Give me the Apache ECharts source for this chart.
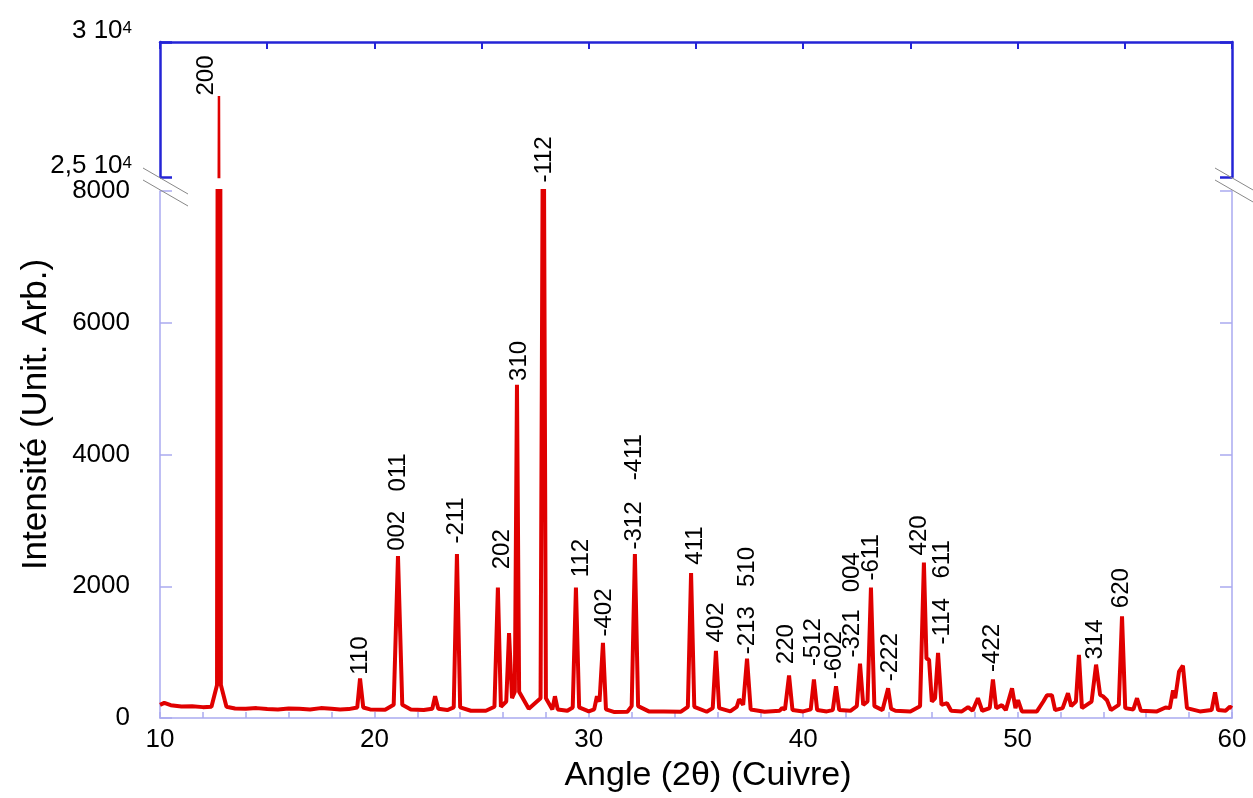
<!DOCTYPE html>
<html><head><meta charset="utf-8">
<script src="https://cdn.jsdelivr.net/npm/echarts@6/dist/echarts.min.js"></script>
<style>html,body{margin:0;padding:0;background:#fff}#c{width:1253px;height:798px}</style>
</head><body><div id="c"></div>
<script>
// ---- data ----
const angles = [
  10.0,10.2,10.5,11.0,11.5,12.0,12.4,12.66,12.75,12.84,13.1,13.5,14.0,14.5,15.0,15.5,16.0,16.5,17.0,17.5,18.0,18.4,18.8,
  19.2,19.33,19.48,19.8,20.5,20.9,21.1,21.3,21.7,22.3,22.7,22.83,22.98,23.4,23.7,23.85,24.0,24.5,
  25.2,25.6,25.76,25.9,26.15,26.28,26.42,26.55,26.65,26.75,27.2,27.75,27.88,28.0,28.3,28.42,28.55,
  29.0,29.25,29.4,29.55,30.0,30.25,30.38,30.5,30.66,30.8,31.2,31.8,32.0,32.15,32.3,32.8,33.5,34.3,
  34.62,34.77,34.92,35.5,35.78,35.93,36.08,36.6,36.9,37.01,37.2,37.38,37.55,38.2,38.9,39.01,39.15,
  39.34,39.5,40.0,40.35,40.5,40.65,41.1,41.38,41.53,41.68,42.2,42.5,42.65,42.8,43.0,43.16,43.32,
  43.7,43.96,44.1,44.3,45.0,45.45,45.63,45.75,45.87,46.0,46.15,46.29,46.45,46.71,46.9,47.4,47.69,
  47.9,48.15,48.35,48.7,48.85,49.0,49.27,49.45,49.74,49.9,50.02,50.2,50.9,51.2,51.37,51.6,51.75,
  52.1,52.35,52.5,52.72,52.86,53.0,53.45,53.66,53.85,53.98,54.17,54.35,54.72,54.87,55.02,55.4,
  55.57,55.75,56.5,56.9,57.1,57.25,57.35,57.53,57.71,57.9,58.5,59.05,59.21,59.35,59.7,59.9,60.0
];
const intensities = [
  200,230,195,175,180,165,170,500,28000,500,170,145,140,150,135,130,145,140,130,150,140,130,135,
  160,600,160,130,125,200,2460,200,130,120,140,330,140,120,160,2490,160,110,
  110,170,1980,170,250,1290,300,400,5060,400,140,300,11000,300,130,330,130,
  110,160,1980,160,100,130,330,250,1140,130,90,95,180,2490,180,100,100,95,
  170,2200,170,95,150,1020,150,100,170,285,200,900,130,95,110,150,130,
  645,120,100,130,585,120,100,120,480,120,110,180,826,200,250,1980,180,
  120,450,140,110,100,180,2360,900,885,250,300,990,200,225,110,100,165,
  110,300,110,150,585,150,195,120,450,150,270,100,100,250,345,345,120,
  150,375,180,250,960,150,250,810,350,330,270,120,200,1545,150,130,
  300,110,100,160,150,420,300,705,795,150,100,120,390,120,110,170,150
];
const peakLabels  = ['200','110','002','011','-211','202','310','-112','112','-402','-312','-411','411','402','510','-213','220','-512','-602','-321','004','-611','-222','420','611','-114','-422','314','620'];
const labelAngles = [12.19,19.38,21.10,21.15,23.85,26.0,26.79,27.96,29.68,30.76,32.15,32.15,35.0,35.98,37.43,37.43,39.24,40.5,41.48,42.32,42.32,43.21,44.1,45.45,46.52,46.52,48.85,53.66,54.87];
const labelLevels = [28000,650,2530,3430,2640,2250,5110,8120,2130,1230,2550,3600,2320,1140,1980,960,810,780,580,910,1900,2080,550,2460,2110,1110,690,880,1660];
const labelPanel  = [0,1,1,1,1,1,1,1,1,1,1,1,1,1,1,1,1,1,1,1,1,1,1,1,1,1,1,1,1];
const highTickLabels = {25000: '2,5 10{s|4}', 30000: '3 10{s|4}'};
const xTitle = 'Angle (2\u03b8) (Cuivre)';
const yTitle = 'Intensité (Unit. Arb.)';

// ---- layout / style ----
const FONT = 'Liberation Sans, Arial, sans-serif';
const RED = '#e00000';
const DARK = '#2424d6';
const LIGHT = '#aaaaf0';
const L = 160, R = 1232, TOP_T = 42, TOP_B = 177, BOT_T = 191, BOT_B = 722;

const series = angles.map((a, i) => [a, intensities[i]]);
const lblTop = [], lblBot = [];
peakLabels.forEach((t, i) => {
  (labelPanel[i] === 0 ? lblTop : lblBot).push({value: [labelAngles[i], labelLevels[i]], name: t});
});
const labelStyle = {
  show: true, formatter: p => p.name, position: [0, 0], rotate: 90, opacity: 1,
  align: 'left', verticalAlign: 'middle', fontSize: 24, color: '#000', fontFamily: FONT
};

const chart = echarts.init(document.getElementById('c'), null, {renderer: 'canvas'});
chart.setOption({
  animation: false,
  backgroundColor: '#fff',
  grid: [
    {left: L, right: 1253 - R, top: TOP_T, height: TOP_B - TOP_T},
    {left: L, right: 1253 - R, top: BOT_T, height: BOT_B - BOT_T}
  ],
  xAxis: [
    {gridIndex: 0, type: 'value', min: 10, max: 60, interval: 5, position: 'top',
     axisLine: {onZero: false, lineStyle: {color: DARK, width: 2.5}},
     axisTick: {inside: true, length: 7, lineStyle: {color: DARK, width: 2}},
     axisLabel: {show: false}, splitLine: {show: false}},
    {gridIndex: 1, type: 'value', min: 10, max: 60, interval: 10, position: 'bottom',
     axisLine: {onZero: false, lineStyle: {color: LIGHT, width: 1.5}},
     axisTick: {inside: true, length: 6, lineStyle: {color: LIGHT, width: 1.5}},
     minorTick: {show: true, splitNumber: 5, length: 6, lineStyle: {color: LIGHT, width: 1.5}},
     axisLabel: {fontSize: 26, color: '#000', margin: 9, fontFamily: FONT, formatter: v => String(v)},
     splitLine: {show: false},
     name: xTitle, nameLocation: 'middle', nameGap: 41,
     nameTextStyle: {fontSize: 34, color: '#000', fontFamily: FONT, padding: [0, 0, 0, 24]}}
  ],
  yAxis: [
    {gridIndex: 0, type: 'value', min: 25000, max: 30000, interval: 5000, position: 'left',
     axisLine: {show: true, lineStyle: {color: DARK, width: 2.5}},
     axisTick: {inside: true, length: 12, lineStyle: {color: DARK, width: 2.5}},
     axisLabel: {margin: 28, fontSize: 26, color: '#000', fontFamily: FONT, verticalAlign: 'bottom', lineHeight: 22,
       formatter: v => highTickLabels[v] || '',
       rich: {s: {fontSize: 17, verticalAlign: 'top', lineHeight: 22, fontFamily: FONT, color: '#000'}}},
     splitLine: {show: false}},
    {gridIndex: 0, type: 'value', min: 25000, max: 30000, interval: 5000, position: 'right',
     axisLine: {show: true, lineStyle: {color: DARK, width: 2.5}},
     axisTick: {inside: true, length: 12, lineStyle: {color: DARK, width: 2.5}},
     axisLabel: {show: false}, splitLine: {show: false}},
    {gridIndex: 1, type: 'value', min: 0, max: 8000, interval: 2000, position: 'left',
     axisLine: {show: true, lineStyle: {color: LIGHT, width: 1.5}},
     axisTick: {inside: true, length: 12, lineStyle: {color: LIGHT, width: 1.5}},
     axisLabel: {margin: 30, fontSize: 26, color: '#000', fontFamily: FONT, formatter: v => String(v)},
     splitLine: {show: false},
     name: yTitle, nameLocation: 'middle', nameGap: 106, nameRotate: 90,
     nameTextStyle: {fontSize: 35, color: '#000', fontFamily: FONT, padding: [0, 0, 0, 80]}},
    {gridIndex: 1, type: 'value', min: 0, max: 8000, interval: 2000, position: 'right',
     axisLine: {show: true, lineStyle: {color: LIGHT, width: 1.5}},
     axisTick: {inside: true, length: 12, lineStyle: {color: LIGHT, width: 1.5}},
     axisLabel: {show: false}, splitLine: {show: false}}
  ],
  series: [
    {type: 'line', xAxisIndex: 0, yAxisIndex: 0, data: series, showSymbol: false, symbol: 'none',
     lineStyle: {color: RED, width: 2.5}, clip: true, z: 3},
    {type: 'line', xAxisIndex: 1, yAxisIndex: 2, data: series, showSymbol: false, symbol: 'none',
     lineStyle: {color: RED, width: 4}, clip: true, z: 3},
    {type: 'scatter', xAxisIndex: 0, yAxisIndex: 0, data: lblTop, symbolSize: 1, clip: false, silent: true,
     itemStyle: {color: 'rgba(0,0,0,0)'}, label: labelStyle, z: 4},
    {type: 'scatter', xAxisIndex: 1, yAxisIndex: 2, data: lblBot, symbolSize: 1, clip: false, silent: true,
     itemStyle: {color: 'rgba(0,0,0,0)'}, label: labelStyle, z: 4}
  ]
});

// axis-break marks (decoration)
const mk = (x, y) => ({type: 'line', shape: {x1: x - 17, y1: y - 9, x2: x + 28, y2: y + 17},
  style: {stroke: '#888', lineWidth: 1}, z: 10});
chart.setOption({graphic: [mk(L, TOP_B), mk(L, TOP_B + 12), mk(R, TOP_B), mk(R, TOP_B + 12)]});
</script></body></html>
